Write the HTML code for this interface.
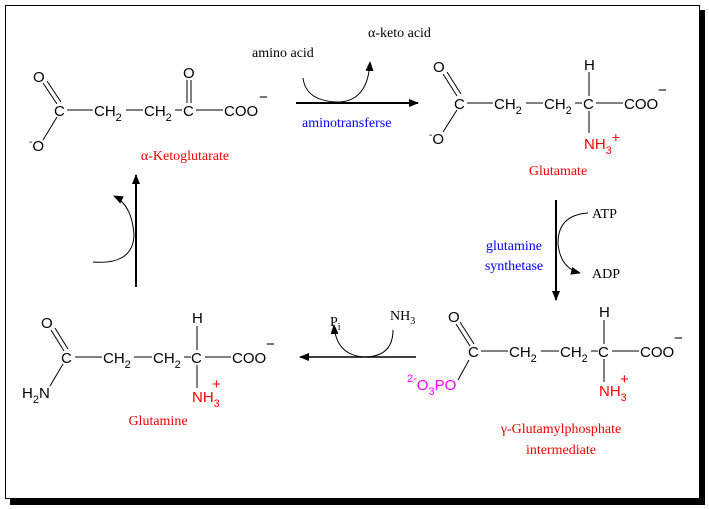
<!DOCTYPE html>
<html><head><meta charset="utf-8"><style>
html,body{margin:0;padding:0;background:#fff;}
svg{display:block;}
.s{font-family:"Liberation Sans",sans-serif;font-size:15px;}
.t{font-family:"Liberation Serif",serif;font-size:14px;}
</style></head><body>
<svg width="709" height="509" viewBox="0 0 709 509" xmlns="http://www.w3.org/2000/svg">
<defs>
<marker id="ah" markerWidth="10" markerHeight="8" refX="9" refY="4" orient="auto" markerUnits="userSpaceOnUse"><path d="M0,0 L10,4 L0,8 Z" fill="#000"/></marker>
</defs>
<rect x="10" y="10" width="695" height="495" fill="#000"/>
<rect x="5.5" y="5.5" width="694" height="493" fill="#fff" stroke="#000" stroke-width="1"/>

<g stroke="#000" stroke-width="1" fill="none">
<line x1="43" y1="83" x2="57" y2="104"/><line x1="47" y1="81" x2="61" y2="102"/>
<line x1="57" y1="117" x2="43" y2="140"/>
<line x1="67" y1="110" x2="93" y2="110"/>
<line x1="126" y1="110" x2="143" y2="110"/>
<line x1="175" y1="110" x2="182" y2="110"/>
<line x1="187" y1="80" x2="187" y2="103"/><line x1="191" y1="80" x2="191" y2="103"/>
<line x1="196" y1="110" x2="223" y2="110"/>
<line x1="443" y1="74" x2="457" y2="96"/><line x1="447" y1="72" x2="461" y2="94"/>
<line x1="457" y1="110" x2="443" y2="132"/>
<line x1="467" y1="103" x2="493" y2="103"/>
<line x1="526" y1="103" x2="543" y2="103"/>
<line x1="575" y1="103" x2="582" y2="103"/>
<line x1="589" y1="72" x2="589" y2="96"/>
<line x1="589" y1="111" x2="589" y2="133"/>
<line x1="596" y1="103" x2="623" y2="103"/>
<line x1="456" y1="324" x2="470" y2="346"/><line x1="460" y1="322" x2="474" y2="344"/>
<line x1="469" y1="360" x2="458" y2="380"/>
<line x1="481" y1="351" x2="508" y2="351"/>
<line x1="541" y1="351" x2="559" y2="351"/>
<line x1="591" y1="351" x2="598" y2="351"/>
<line x1="604" y1="320" x2="604" y2="344"/>
<line x1="604" y1="359" x2="604" y2="382"/>
<line x1="612" y1="351" x2="639" y2="351"/>
<line x1="51" y1="330" x2="64" y2="351"/><line x1="55" y1="328" x2="68" y2="349"/>
<line x1="63" y1="364" x2="50" y2="386"/>
<line x1="75" y1="357" x2="102" y2="357"/>
<line x1="134" y1="357" x2="152" y2="357"/>
<line x1="184" y1="357" x2="191" y2="357"/>
<line x1="197" y1="326" x2="197" y2="350"/>
<line x1="197" y1="365" x2="197" y2="388"/>
<line x1="205" y1="357" x2="231" y2="357"/>
</g>

<g stroke="#000" fill="none">
<line x1="296" y1="103" x2="418" y2="103" stroke-width="2" marker-end="url(#ah)"/>
<path d="M303,78 Q306,102 340,102 Q368,100 370,62" stroke-width="1" marker-end="url(#ah)"/>
<line x1="556" y1="200" x2="556" y2="300" stroke-width="2" marker-end="url(#ah)"/>
<path d="M588,213 Q558,215 558,243 Q560,268 580,273" stroke-width="1" marker-end="url(#ah)"/>
<line x1="416" y1="357" x2="300" y2="357" stroke-width="1.5" marker-end="url(#ah)"/>
<path d="M393,330 Q393,357 364,357 Q336,355 334,325" stroke-width="1" marker-end="url(#ah)"/>
<line x1="136" y1="287" x2="136" y2="175" stroke-width="2" marker-end="url(#ah)"/>
<path d="M93,262 Q133,265 134,235 Q132,205 114,196" stroke-width="1" marker-end="url(#ah)"/>
</g>

<text class="s" x="33" y="82">O</text>
<text class="s" x="54" y="116">C</text>
<text class="s" x="94" y="116">CH<tspan font-size="11" dy="5">2</tspan></text>
<text class="s" x="144" y="116">CH<tspan font-size="11" dy="5">2</tspan></text>
<text class="s" x="183" y="116">C</text>
<text class="s" x="183" y="78">O</text>
<text class="s" x="224" y="116">COO</text>
<text class="s" x="259" y="102" font-size="16">−</text>
<text class="s" x="29" y="151"><tspan font-size="10" dy="-6">-</tspan><tspan dy="6">O</tspan></text>
<text class="t" x="185" y="160" style="fill:#f00" text-anchor="middle">α-Ketoglutarate</text>

<text class="t" x="252" y="57">amino acid</text>
<text class="t" x="368" y="37">α-keto acid</text>
<text class="t" x="302" y="127" style="fill:#00f">aminotransferse</text>

<text class="s" x="433" y="72">O</text>
<text class="s" x="454" y="109">C</text>
<text class="s" x="494" y="109">CH<tspan font-size="11" dy="5">2</tspan></text>
<text class="s" x="544" y="109">CH<tspan font-size="11" dy="5">2</tspan></text>
<text class="s" x="583" y="109">C</text>
<text class="s" x="584" y="70">H</text>
<text class="s" x="624" y="109">COO</text>
<text class="s" x="658" y="95" font-size="16">−</text>
<text class="s" x="429" y="144"><tspan font-size="10" dy="-6">-</tspan><tspan dy="6">O</tspan></text>
<text class="s" x="584" y="149" style="fill:#f00">NH<tspan font-size="11" dy="5">3</tspan><tspan font-size="14" dy="-12">+</tspan></text>
<text class="t" x="558" y="175" style="fill:#f00" text-anchor="middle">Glutamate</text>

<text class="t" x="592" y="218">ATP</text>
<text class="t" x="592" y="278">ADP</text>
<text class="t" x="514" y="250" style="fill:#00f" text-anchor="middle">glutamine</text>
<text class="t" x="514" y="270" style="fill:#00f" text-anchor="middle">synthetase</text>

<text class="s" x="448" y="322">O</text>
<text class="s" x="468" y="357">C</text>
<text class="s" x="509" y="357">CH<tspan font-size="11" dy="5">2</tspan></text>
<text class="s" x="560" y="357">CH<tspan font-size="11" dy="5">2</tspan></text>
<text class="s" x="598" y="357">C</text>
<text class="s" x="599" y="317">H</text>
<text class="s" x="640" y="357">COO</text>
<text class="s" x="674" y="343" font-size="16">−</text>
<text class="s" x="407" y="390" style="fill:#f0f"><tspan font-size="11" dy="-8">2-</tspan><tspan dy="8">O</tspan><tspan font-size="11" dy="5">3</tspan><tspan dy="-5">PO</tspan></text>
<text class="s" x="599" y="396" style="fill:#f00">NH<tspan font-size="11" dy="5">3</tspan></text>
<text class="s" x="620" y="384" style="fill:#f00" font-size="14">+</text>
<text class="t" x="561" y="433" style="fill:#f00" text-anchor="middle">γ-Glutamylphosphate</text>
<text class="t" x="561" y="454" style="fill:#f00" text-anchor="middle">intermediate</text>

<text class="t" x="330" y="326">P<tspan font-size="10" dy="4">i</tspan></text>
<text class="t" x="390" y="320">NH<tspan font-size="10" dy="4">3</tspan></text>

<text class="s" x="41" y="328">O</text>
<text class="s" x="61" y="363">C</text>
<text class="s" x="103" y="363">CH<tspan font-size="11" dy="5">2</tspan></text>
<text class="s" x="153" y="363">CH<tspan font-size="11" dy="5">2</tspan></text>
<text class="s" x="191" y="363">C</text>
<text class="s" x="192" y="323">H</text>
<text class="s" x="232" y="363">COO</text>
<text class="s" x="266" y="349" font-size="16">−</text>
<text class="s" x="22" y="398">H<tspan font-size="11" dy="5">2</tspan><tspan dy="-5">N</tspan></text>
<text class="s" x="192" y="402" style="fill:#f00">NH<tspan font-size="11" dy="5">3</tspan></text>
<text class="s" x="212" y="389" style="fill:#f00" font-size="14">+</text>
<text class="t" x="158" y="425" style="fill:#f00" text-anchor="middle">Glutamine</text>
</svg>
</body></html>
